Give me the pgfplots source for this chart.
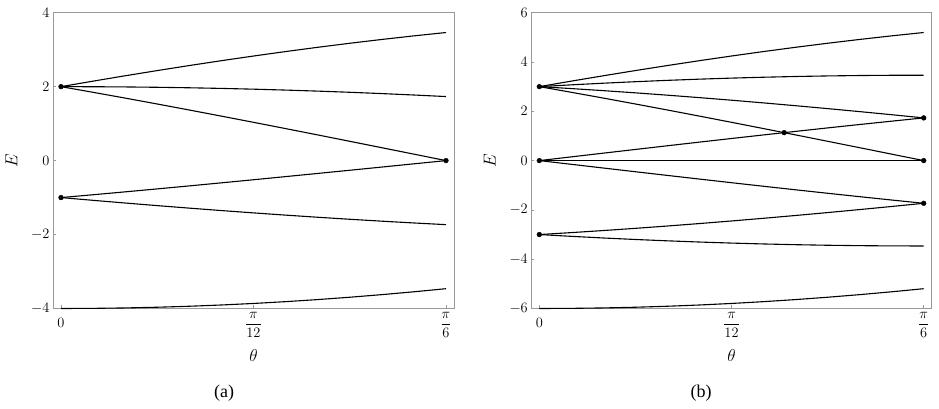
\documentclass[border=0pt]{standalone}
\usepackage{fontspec}
\setmainfont{Liberation Serif}
\usepackage{amsmath}
\usepackage{pgfplots}
\usepackage{pgfplotstable}
\pgfplotsset{compat=1.18}

\definecolor{framegray}{gray}{0.6}

% panel (a): six levels
\pgfplotstableread{
th      A1      A2      A3      A4       A5       A6
0       2.0000  2.0000  2.0000  -1.0000  -1.0000  -4.0000
0.04363 2.1492  1.9981  1.8470  -0.9235  -1.0746  -3.9962
0.08727 2.2943  1.9924  1.6905  -0.8452  -1.1472  -3.9848
0.13090 2.4350  1.9829  1.5307  -0.7654  -1.2175  -3.9658
0.17453 2.5712  1.9696  1.3681  -0.6840  -1.2856  -3.9392
0.21817 2.7024  1.9526  1.2028  -0.6014  -1.3512  -3.9052
0.26180 2.8284  1.9319  1.0353  -0.5176  -1.4142  -3.8637
0.30543 2.9491  1.9074  0.8658  -0.4329  -1.4746  -3.8149
0.34907 3.0642  1.8794  0.6946  -0.3473  -1.5321  -3.7588
0.39270 3.1734  1.8478  0.5221  -0.2611  -1.5867  -3.6955
0.43633 3.2766  1.8126  0.3486  -0.1743  -1.6383  -3.6252
0.47997 3.3736  1.7740  0.1745  -0.0872  -1.6868  -3.5480
0.52360 3.4641  1.7321  0.0000   0.0000  -1.7321  -3.4641
}\tablea

% panel (b): ten levels
\pgfplotstableread{
th      B1      B2      B3      B4      B5      B6      B7       B8       B9       B10
0       3.0000  3.0000  3.0000  3.0000  0.0000  0.0000  0.0000  -3.0000  -3.0000  -6.0000
0.04363 3.2238  3.0727  2.9216  2.7705  0.1511  0.0000  -0.1511  -2.9216  -3.0727  -5.9943
0.08727 3.4415  3.1396  2.8376  2.5357  0.3019  0.0000  -0.3019  -2.8376  -3.1396  -5.9772
0.13090 3.6526  3.2004  2.7483  2.2961  0.4522  0.0000  -0.4522  -2.7483  -3.2004  -5.9487
0.17453 3.8567  3.2552  2.6537  2.0521  0.6015  0.0000  -0.6015  -2.6537  -3.2552  -5.9088
0.21817 4.0535  3.3038  2.5540  1.8042  0.7498  0.0000  -0.7498  -2.5540  -3.3038  -5.8578
0.26180 4.2426  3.3461  2.4495  1.5529  0.8966  0.0000  -0.8966  -2.4495  -3.3461  -5.7956
0.30543 4.4237  3.3820  2.3403  1.2986  1.0417  0.0000  -1.0417  -2.3403  -3.3820  -5.7223
0.34907 4.5963  3.4115  2.2267  1.0419  1.1848  0.0000  -1.1848  -2.2267  -3.4115  -5.6382
0.39270 4.7601  3.4345  2.1088  0.7832  1.3257  0.0000  -1.3257  -2.1088  -3.4345  -5.5433
0.43633 4.9149  3.4509  1.9869  0.5229  1.4640  0.0000  -1.4640  -1.9869  -3.4509  -5.4378
0.47997 5.0603  3.4608  1.8613  0.2617  1.5995  0.0000  -1.5995  -1.8613  -3.4608  -5.3221
0.52360 5.1962  3.4641  1.7321  0.0000  1.7321  0.0000  -1.7321  -1.7321  -3.4641  -5.1962
}\tableb

\pgfplotsset{
  panel/.style={
    scale only axis, anchor=south west,
    height=295.8pt,
    xmin=-0.0109, xmax=0.5345,
    xtick={0,0.261799,0.523599},
    xticklabels={$\vphantom{\dfrac{\pi}{12}}0$, $\dfrac{\pi}{12}$, $\dfrac{\pi}{6}$},
    xtick pos=bottom, ytick pos=left,
    tick align=inside, major tick length=3pt,
    axis line style={framegray, line width=0.8pt},
    tick style={framegray, line width=0.6pt},
    tick label style={font=\fontsize{13.5}{15}\selectfont, black},
    label style={font=\fontsize{16}{18}\selectfont},
    xlabel={$\theta$}, ylabel={$E$},
    xlabel style={at={(rel axis cs:0.5,0)}, anchor=center, yshift=-47.5pt},
    % the label is turned by 90 degrees, so its yshift moves it to the left
    ylabel style={at={(rel axis cs:0,0.5)}, anchor=center, yshift=41.5pt},
    clip=false,
  },
  curve/.style={black, line width=1.1pt, mark=none},
  dots/.style={only marks, mark=*, mark size=2.4pt, black},
}

\begin{document}
\begin{tikzpicture}
\begin{axis}[panel, at={(53pt,100.5pt)}, width=401pt,
    ymin=-4, ymax=4, ytick={-4,-2,0,2,4}]
\addplot[curve] table[x=th, y=A1] {\tablea};
\addplot[curve] table[x=th, y=A2] {\tablea};
\addplot[curve] table[x=th, y=A3] {\tablea};
\addplot[curve] table[x=th, y=A4] {\tablea};
\addplot[curve] table[x=th, y=A5] {\tablea};
\addplot[curve] table[x=th, y=A6] {\tablea};
\addplot[dots] coordinates {(0,2) (0,-1) (0.5236,0)};
\end{axis}

\begin{axis}[panel, at={(531.3pt,100.5pt)}, width=400.4pt,
    ymin=-6, ymax=6, ytick={-6,-4,-2,0,2,4,6}]
\addplot[curve] table[x=th, y=B1] {\tableb};
\addplot[curve] table[x=th, y=B2] {\tableb};
\addplot[curve] table[x=th, y=B3] {\tableb};
\addplot[curve] table[x=th, y=B4] {\tableb};
\addplot[curve] table[x=th, y=B5] {\tableb};
\addplot[curve] table[x=th, y=B6] {\tableb};
\addplot[curve] table[x=th, y=B7] {\tableb};
\addplot[curve] table[x=th, y=B8] {\tableb};
\addplot[curve] table[x=th, y=B9] {\tableb};
\addplot[curve] table[x=th, y=B10] {\tableb};
\addplot[dots] coordinates {(0,3) (0,0) (0,-3) (0.3335,1.134) (0.5236,1.7321) (0.5236,0) (0.5236,-1.7321)};
\end{axis}

\node[font=\fontsize{18}{20}\selectfont] at (224pt,15.5pt) {(a)};
\node[font=\fontsize{18}{20}\selectfont] at (701pt,15.5pt) {(b)};

\pgfresetboundingbox
\path (0pt,0pt) rectangle (939pt,409pt);
\end{tikzpicture}
\end{document}
